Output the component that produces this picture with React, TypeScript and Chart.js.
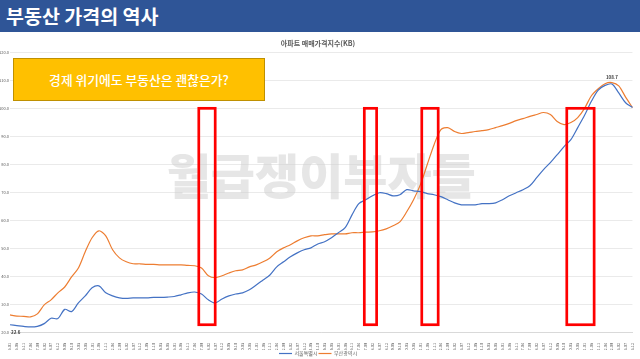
import React, { useEffect, useRef } from "react";
import { Chart, registerables } from "chart.js";

Chart.register(...registerables);

const FONT = '"Noto Sans CJK KR", "Noto Sans", sans-serif';

// ---- data (one point every 5 months, from 1986.01) ----
const START_YEAR = 1986;
const STEP_MONTHS = 5;

const seoul = [
  22.6, 22.3, 22.0, 21.8, 22.0, 23.0, 24.9, 24.8, 28.1, 27.3,
  30.4, 32.9, 35.8, 36.5, 34.0, 32.9, 32.2, 32.0, 32.2, 32.2,
  32.2, 32.4, 32.4, 32.5, 32.7, 33.3, 34.0, 34.3, 33.6, 31.5,
  30.4, 31.8, 32.9, 33.6, 34.0, 35.1, 36.8, 38.6, 40.4, 43.3,
  45.1, 46.9, 48.3, 49.4, 50.1, 51.5, 52.3, 53.7, 55.5, 57.3,
  61.9, 65.9, 67.3, 68.7, 69.8, 69.5, 68.7, 69.1, 70.9, 70.5,
  70.2, 69.5, 69.1, 68.4, 67.3, 66.2, 65.5, 65.5, 65.5, 65.9,
  65.9, 66.2, 67.3, 68.7, 69.8, 70.9, 72.3, 75.2, 78.1, 80.6,
  83.4, 86.3, 88.8, 93.1, 97.5, 102.5, 106.5, 108.2, 108.7, 105.5,
  102.0, 100.3,
];

const busan = [
  26.1, 25.7, 25.6, 25.4, 26.5, 29.7, 31.5, 34.0, 36.1, 39.7,
  42.9, 48.7, 53.7, 56.2, 54.4, 49.4, 46.5, 45.1, 44.4, 44.4,
  44.2, 44.2, 44.0, 44.0, 44.0, 44.0, 43.8, 43.7, 42.9, 40.1,
  39.4, 40.1, 41.1, 41.9, 42.2, 43.3, 44.0, 45.1, 46.5, 48.7,
  50.1, 51.2, 52.6, 53.7, 54.4, 54.4, 54.8, 55.1, 55.1, 55.1,
  55.5, 55.5, 55.7, 55.8, 56.2, 56.9, 58.0, 59.4, 63.0, 67.3,
  72.7, 79.9, 87.0, 92.4, 93.1, 91.7, 91.0, 91.3, 91.7, 92.0,
  92.4, 93.1, 93.8, 94.6, 95.6, 96.3, 97.1, 97.8, 98.5, 97.8,
  95.3, 94.2, 94.9, 96.7, 100.0, 104.5, 107.0, 108.8, 109.2, 108.0,
  104.0, 100.3,
];

const dateLabels = seoul.map((_, i) => {
  const m = i * STEP_MONTHS;
  const y = START_YEAR + Math.floor(m / 12);
  const mo = (m % 12) + 1;
  return `${y}.${String(mo).padStart(2, "0")}`;
});

const seriesNames = ["서울특별시", "부산광역시"];
const yMin = 20;
const yMax = 120;
const yStep = 10;

// crisis periods (start label, end label, top value, bottom value)
const crisisStart = ["1997.07", "2007.08", "2011.02", "2019.12"];
const crisisEnd = ["1998.07", "2008.05", "2012.02", "2021.08"];
const crisisTop = [100, 100, 100, 100];
const crisisBottom = [22.6, 22.6, 22.6, 22.6];

// labelled points: [series index, point index]
const labelled: [number, number][] = [
  [0, 0],
  [0, 88],
];

const labelToIndex = (lab: string) => {
  const [y, m] = lab.split(".").map(Number);
  return ((y - START_YEAR) * 12 + (m - 1)) / STEP_MONTHS;
};

const legendFitPlugin = {
  id: "legendFit",
  afterInit(chart: any) {
    const lg = chart.legend;
    if (!lg) return;
    const orig = lg.fit.bind(lg);
    lg.fit = () => {
      orig();
      lg.height = 8;
    };
  },
};

const watermarkPlugin = {
  id: "watermark",
  beforeDatasetsDraw(chart: any) {
    const { ctx, chartArea } = chart;
    ctx.save();
    ctx.font = `900 48px ${FONT}`;
    ctx.fillStyle = "rgba(205,205,205,0.5)";
    ctx.textAlign = "center";
    ctx.textBaseline = "middle";
    ctx.fillText(
      "월급쟁이부자들",
      (chartArea.left + chartArea.right) / 2,
      chartArea.top + chartArea.height * 0.44
    );
    ctx.restore();
  },
};

const crisisPlugin = {
  id: "crisis",
  afterDatasetsDraw(chart: any) {
    const { ctx } = chart;
    const xs = chart.scales.x;
    const ys = chart.scales.y;
    ctx.save();
    ctx.strokeStyle = "#FF0000";
    ctx.lineWidth = 2.7;
    crisisStart.forEach((s, k) => {
      const x1 = xs.getPixelForValue(labelToIndex(s));
      const x2 = xs.getPixelForValue(labelToIndex(crisisEnd[k]));
      const y1 = ys.getPixelForValue(crisisTop[k]);
      const y2 = ys.getPixelForValue(crisisBottom[k]);
      ctx.strokeRect(x1, y1, x2 - x1, y2 - y1);
    });
    ctx.restore();
  },
};

const labelPlugin = {
  id: "pointLabels",
  afterDatasetsDraw(chart: any) {
    const { ctx } = chart;
    ctx.save();
    ctx.font = `bold 4.5px ${FONT}`;
    ctx.fillStyle = "#404040";
    ctx.textBaseline = "middle";
    labelled.forEach(([ds, idx]) => {
      const el = chart.getDatasetMeta(ds).data[idx];
      const v = (ds === 0 ? seoul : busan)[idx];
      if (idx === 0) {
        ctx.textAlign = "left";
        ctx.fillText(v.toFixed(1), el.x + 1, el.y + 8);
      } else {
        ctx.textAlign = "center";
        ctx.fillText(v.toFixed(1), el.x, el.y - 7);
      }
    });
    ctx.restore();
  },
};

export default function App() {
  const ref = useRef<HTMLCanvasElement>(null);

  useEffect(() => {
    Chart.defaults.font.family = FONT;
    const chart = new Chart(ref.current as HTMLCanvasElement, {
      type: "line",
      data: {
        labels: dateLabels,
        datasets: [
          {
            label: seriesNames[0],
            data: seoul,
            borderColor: "#4472C4",
            backgroundColor: "#4472C4",
            borderWidth: 1.2,
            pointRadius: 0,
            tension: 0.3,
          },
          {
            label: seriesNames[1],
            data: busan,
            borderColor: "#ED7D31",
            backgroundColor: "#ED7D31",
            borderWidth: 1.2,
            pointRadius: 0,
            tension: 0.3,
          },
        ],
      },
      options: {
        responsive: false,
        animation: false,
        devicePixelRatio: 1,
        layout: { padding: { left: 0, right: 4, top: 0, bottom: 1 } },
        plugins: {
          title: {
            display: true,
            text: "아파트 매매가격지수(KB)",
            color: "#595959",
            font: { size: 7, family: FONT },
            padding: { top: 3, bottom: 5 },
          },
          legend: {
            position: "bottom",
            labels: {
              usePointStyle: true,
              pointStyle: "line",
              pointStyleWidth: 13,
              color: "#595959",
              font: { size: 5, family: FONT },
              padding: 1,
            },
          },
          tooltip: { enabled: false },
        },
        scales: {
          x: {
            grid: { display: false },
            border: { color: "#d9d9d9" },
            ticks: {
              autoSkip: false,
              maxRotation: 90,
              minRotation: 90,
              color: "#595959",
              font: { size: 3.8, family: FONT },
              padding: 3,
            },
            afterFit: (s: any) => {
              s.height = 18;
            },
          },
          y: {
            min: yMin,
            max: yMax,
            border: { display: false },
            grid: { color: "#e3e3e3", lineWidth: 0.75, drawTicks: false },
            ticks: {
              stepSize: yStep,
              color: "#595959",
              font: { size: 4, family: FONT },
              padding: 1,
              callback: (v: any) => Number(v).toFixed(1),
            },
            afterFit: (s: any) => {
              s.width = 10;
            },
          },
        },
      },
      plugins: [legendFitPlugin, watermarkPlugin, crisisPlugin, labelPlugin],
    });
    return () => chart.destroy();
  }, []);

  return (
    <div
      style={{
        position: "fixed",
        left: 0,
        top: 0,
        width: 640,
        height: 359,
        background: "#fff",
        overflow: "hidden",
        fontFamily: FONT,
      }}
    >
      <div
        style={{
          position: "absolute",
          left: 0,
          top: 0,
          width: 640,
          height: 32,
          background: "#2F5597",
          color: "#fff",
          fontWeight: 700,
          fontSize: 19.5,
          lineHeight: "32px",
          paddingLeft: 6,
          boxSizing: "border-box",
          whiteSpace: "nowrap",
        }}
      >
        부동산 가격의 역사
      </div>
      <canvas
        ref={ref}
        width={640}
        height={323}
        style={{ position: "absolute", left: 0, top: 36, width: 640, height: 323 }}
      />
      <div
        style={{
          position: "absolute",
          left: 13,
          top: 58,
          width: 252,
          height: 43,
          background: "#FFC000",
          border: "1px solid #BF9000",
          boxSizing: "border-box",
          color: "#fff",
          fontSize: 12.8,
          fontWeight: 500,
          display: "flex",
          alignItems: "center",
          justifyContent: "center",
          whiteSpace: "nowrap",
        }}
      >
        경제 위기에도 부동산은 괜찮은가?
      </div>
    </div>
  );
}
